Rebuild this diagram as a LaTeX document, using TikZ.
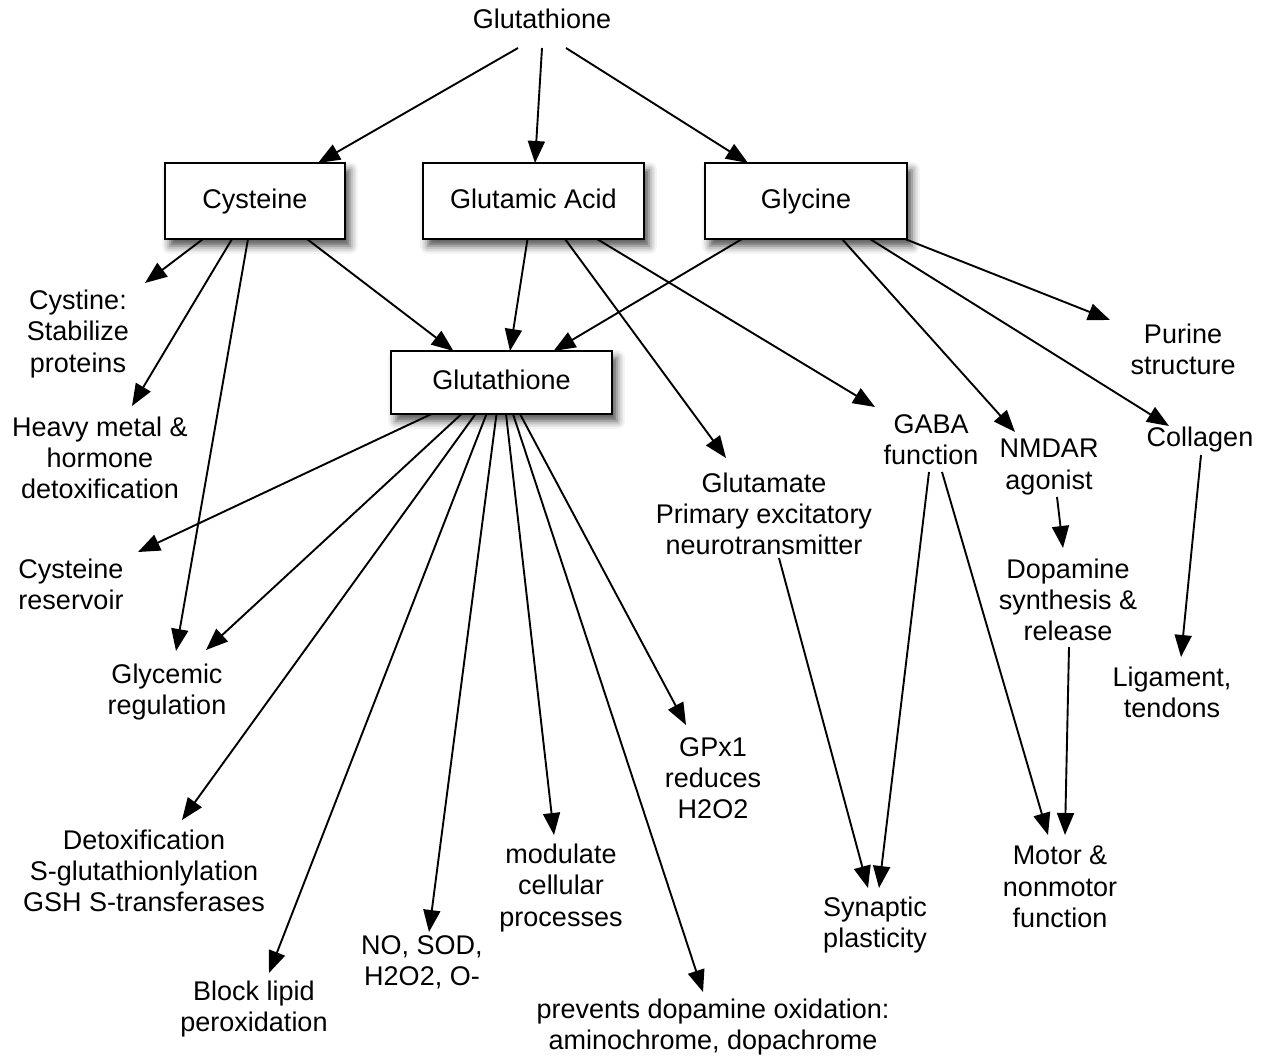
\documentclass[tikz,border=0pt]{standalone}
\usepackage{fontspec}
\setmainfont{Liberation Sans}
\usetikzlibrary{arrows.meta,shadows.blur}

\begin{document}
\begin{tikzpicture}[x=1pt,y=-1pt,
  every node/.style={font=\fontsize{27}{31.3}\selectfont},
  lbl/.style={align=center, inner sep=0pt},
  box/.style={draw, line width=2.8pt, fill=white, inner sep=0pt, outer sep=0pt,
    minimum height=76pt, text height=19.5pt, text depth=5.5pt,
    blur shadow={shadow xshift=5pt, shadow yshift=-7pt, shadow blur radius=8pt, shadow opacity=70}},
  arr/.style={-{Triangle[length=22pt,width=17pt]}, line width=1.9pt}
]
\useasboundingbox (0,0) rectangle (1265,1057);

% top label and the three amino-acid boxes
\node[lbl] (top) at (542,19) {Glutathione};
\node[box, minimum width=180pt] (cys) at (255,201) {Cysteine};
\node[box, minimum width=221pt] (glu) at (533.5,201) {Glutamic Acid};
\node[box, minimum width=202pt] (gly) at (806,201) {Glycine};
\node[box, minimum width=221pt, minimum height=63pt] (gsh) at (501.5,382.5) {Glutathione};

% functions
\node[lbl] (cystine)   at (78,334)   {Cystine:\\Stabilize\\proteins};
\node[lbl] (heavy)     at (100,458)  {Heavy metal \&\\hormone\\detoxification};
\node[lbl] (reservoir) at (71,584)   {Cysteine\\reservoir};
\node[lbl] (glycemic)  at (167,692)  {Glycemic\\regulation};
\node[lbl] (detox)     at (144,871)  {Detoxification\\S-glutathionlylation\\GSH S-transferases};
\node[lbl] (block)     at (254,1009) {Block lipid\\peroxidation};
\node[lbl] (nosod)     at (422,962)  {NO, SOD,\\H2O2, O-};
\node[lbl] (modulate)  at (561,888)  {modulate\\cellular\\processes};
\node[lbl] (prevents)  at (713,1027) {prevents dopamine oxidation:\\aminochrome, dopachrome};
\node[lbl] (gpx)       at (713,778)  {GPx1\\reduces\\H2O2};
\node[lbl] (glutamate) at (764,514)  {Glutamate\\Primary excitatory\\neurotransmitter};
\node[lbl] (gaba)      at (931,440)  {GABA\\function};
\node[lbl] (nmdar)     at (1049,467) {NMDAR\\agonist};
\node[lbl] (collagen)  at (1200,440) {Collagen};
\node[lbl] (purine)    at (1183,349) {Purine\\structure};
\node[lbl] (dopamine)  at (1068,600) {Dopamine\\synthesis \&\\release};
\node[lbl] (ligament)  at (1172,692) {Ligament,\\tendons};
\node[lbl] (synaptic)  at (875,925)  {Synaptic\\plasticity};
\node[lbl] (motor)     at (1060,887) {Motor \&\\nonmotor\\function};

% glutathione -> constituents
\draw[arr] ([shift={(-24,29)}]top.center) -- ([xshift=63]cys.north);
\draw[arr] ([shift={(0,29)}]top.center) -- ([xshift=1.5]glu.north);
\draw[arr] ([shift={(24,29)}]top.center) -- ([xshift=-58]gly.north);

% cysteine
\draw[arr] ([xshift=-52]cys.south) -- ([shift={(67,-51)}]cystine.center);
\draw[arr] ([xshift=-23]cys.south) -- ([shift={(32,-52)}]heavy.center);
\draw[arr] ([xshift=-7]cys.south) -- ([shift={(9,-41)}]glycemic.center);
\draw[arr] ([xshift=52]cys.south) -- ([xshift=-48]gsh.north);

% glutamic acid
\draw[arr] ([xshift=-6]glu.south) -- ([xshift=8.5]gsh.north);
\draw[arr] ([xshift=31.5]glu.south) -- ([shift={(-38,-56)}]glutamate.center);
\draw[arr] ([xshift=63.5]glu.south) -- ([shift={(-56,-33)}]gaba.center);

% glycine
\draw[arr] ([xshift=-64]gly.south) -- ([xshift=52]gsh.north);
\draw[arr] ([xshift=36]gly.south) -- ([shift={(-34,-35)}]nmdar.center);
\draw[arr] ([xshift=64]gly.south) -- ([shift={(-31,-14)}]collagen.center);
\draw[arr] ([xshift=-2]gly.south east) -- ([shift={(-73,-29)}]purine.center);

% glutathione fan
\draw[arr] ([xshift=-70]gsh.south) -- ([shift={(67,-32)}]reservoir.center);
\draw[arr] ([xshift=-40]gsh.south) -- ([shift={(39,-42)}]glycemic.center);
\draw[arr] ([xshift=-26]gsh.south) -- ([shift={(38,-51)}]detox.center);
\draw[arr] ([xshift=-15]gsh.south) -- ([shift={(15,-36)}]block.center);
\draw[arr] ([xshift=-5]gsh.south) -- ([shift={(7,-30)}]nosod.center);
\draw[arr] ([xshift=4.5]gsh.south) -- ([shift={(-7,-53)}]modulate.center);
\draw[arr] ([xshift=11.5]gsh.south) -- ([shift={(-10,-35)}]prevents.center);
\draw[arr] ([xshift=18.5]gsh.south) -- ([shift={(-27,-53)}]gpx.center);

% neurotransmission and tissue
\draw[arr] ([shift={(15,44)}]glutamate.center) -- ([shift={(-7,-37)}]synaptic.center);
\draw[arr] ([shift={(-2,32)}]gaba.center) -- ([shift={(4,-37)}]synaptic.center);
\draw[arr] ([shift={(11,32)}]gaba.center) -- ([shift={(-12,-52)}]motor.center);
\draw[arr] ([shift={(8,30)}]nmdar.center) -- ([shift={(-5,-52)}]dopamine.center);
\draw[arr] ([shift={(1,47)}]dopamine.center) -- ([shift={(5,-52)}]motor.center);
\draw[arr] ([shift={(1,15)}]collagen.center) -- ([shift={(9,-35)}]ligament.center);
\end{tikzpicture}
\end{document}
